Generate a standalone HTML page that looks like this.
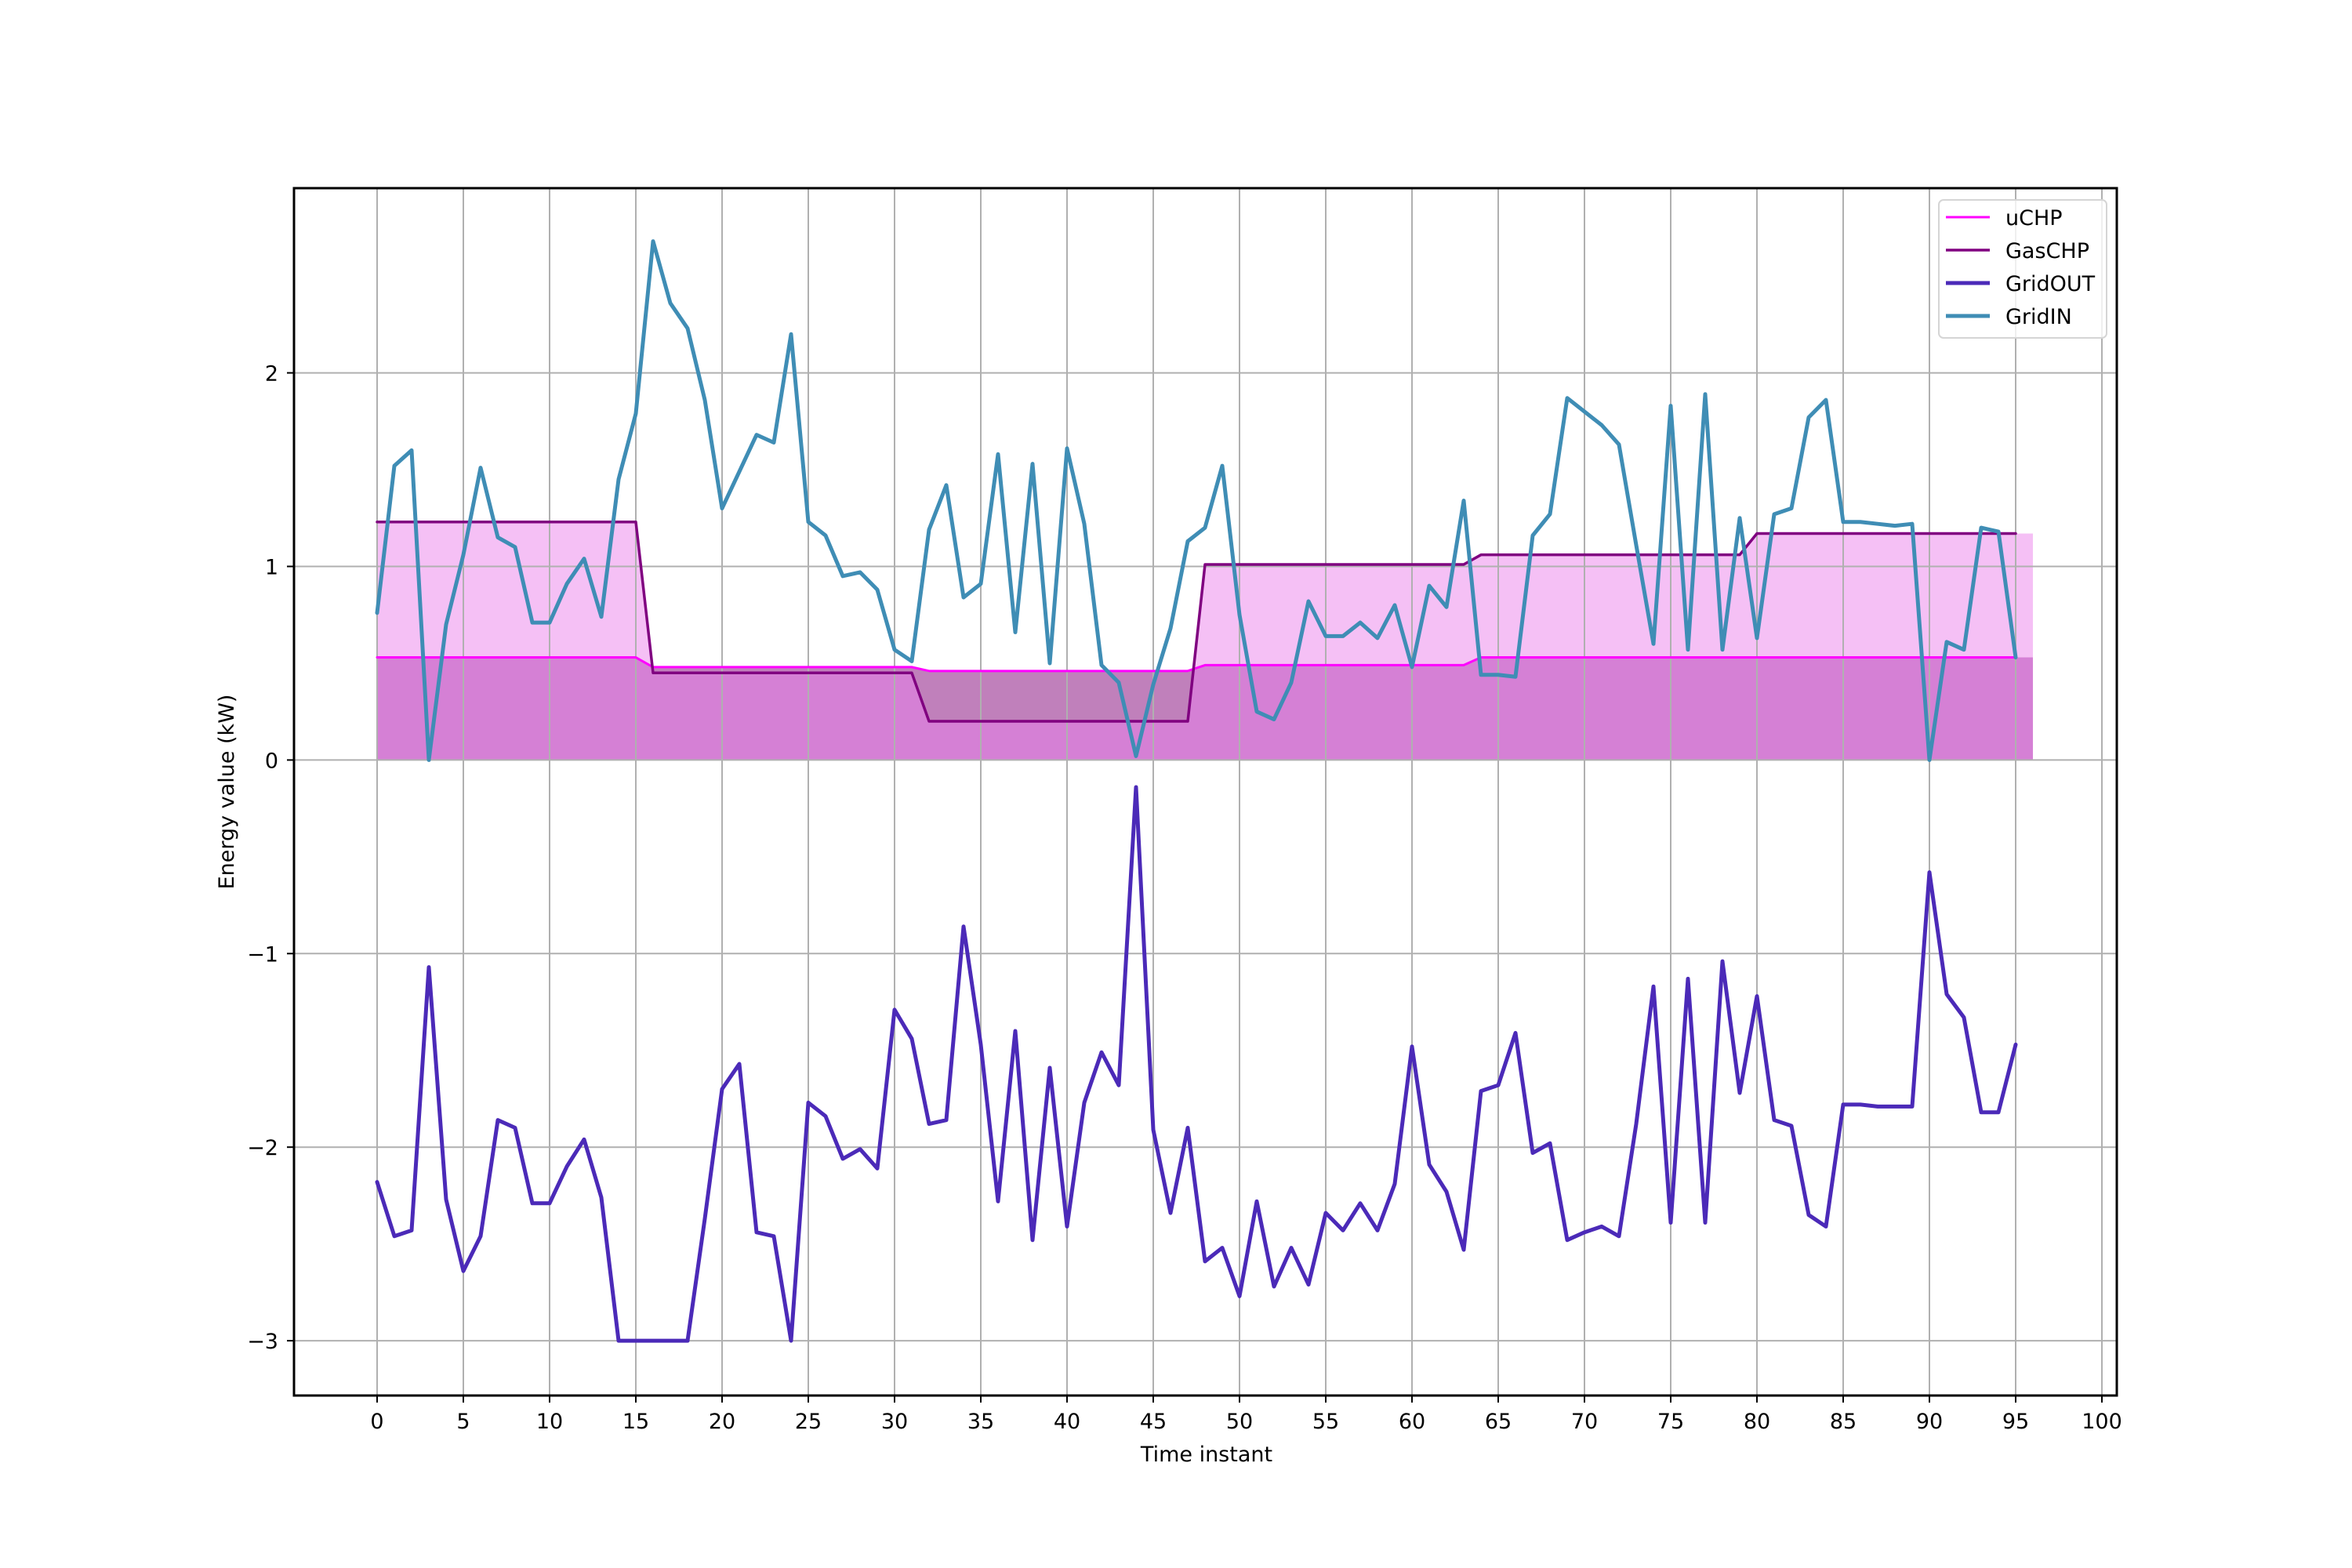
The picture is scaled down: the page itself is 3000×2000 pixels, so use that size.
<!DOCTYPE html>
<html><head><meta charset="utf-8"><style>
html,body{margin:0;padding:0;background:#fff;}
svg{display:block;font-family:"DejaVu Sans","Liberation Sans",sans-serif;}
</style></head><body>
<svg id="chart" width="3000" height="2000" viewBox="0 0 3000 2000">
<defs><clipPath id="ax-clip"><rect x="375" y="240" width="2325" height="1540"/></clipPath></defs>
<rect x="0" y="0" width="3000" height="2000" fill="#fff"/>
<g id="fills" clip-path="url(#ax-clip)"></g>
<g id="grid"></g>
<g id="lines" clip-path="url(#ax-clip)"></g>
<rect x="375" y="240" width="2325" height="1540" fill="none" stroke="#000" stroke-width="3"/>
<g id="ticks"></g>
<text x="1539" y="1864" font-size="27" text-anchor="middle">Time instant</text>
<text x="298" y="1010" font-size="27" text-anchor="middle" transform="rotate(-90 298 1010)">Energy value (kW)</text>
<g>
<rect x="2473" y="255" width="214" height="176" rx="6" fill="#fff" fill-opacity="0.8" stroke="#d5d5d5" stroke-width="2"/>
<g><line x1="2482" y1="277" x2="2538" y2="277" stroke="#ff00ff" stroke-width="3"/><text x="2558" y="287" font-size="27">uCHP</text></g>
<g><line x1="2482" y1="319" x2="2538" y2="319" stroke="#800080" stroke-width="3.5"/><text x="2558" y="329" font-size="27">GasCHP</text></g>
<g><line x1="2482" y1="361" x2="2538" y2="361" stroke="#4b2ab8" stroke-width="5"/><text x="2558" y="371" font-size="27">GridOUT</text></g>
<g><line x1="2482" y1="403" x2="2538" y2="403" stroke="#3f8db5" stroke-width="5"/><text x="2558" y="413" font-size="27">GridIN</text></g>
</g>
</svg>
<script>
const gridIn = [0.76,1.52,1.60,0,0.70,1.06,1.51,1.15,1.10,0.71,0.71,0.91,1.04,0.74,1.45,1.79,2.68,2.36,2.23,1.86,1.30,1.49,1.68,1.64,2.20,1.23,1.16,0.95,0.97,0.88,0.57,0.51,1.19,1.42,0.84,0.91,1.58,0.66,1.53,0.50,1.61,1.22,0.49,0.40,0.02,0.39,0.68,1.13,1.20,1.52,0.75,0.25,0.21,0.40,0.82,0.64,0.64,0.71,0.63,0.80,0.48,0.90,0.79,1.34,0.44,0.44,0.43,1.16,1.27,1.87,1.80,1.73,1.63,1.11,0.60,1.83,0.57,1.89,0.57,1.25,0.63,1.27,1.30,1.77,1.86,1.23,1.23,1.22,1.21,1.22,0,0.61,0.57,1.20,1.18,0.53];
const gridOut = [-2.18,-2.46,-2.43,-1.07,-2.27,-2.64,-2.46,-1.86,-1.90,-2.29,-2.29,-2.10,-1.96,-2.26,-3,-3,-3,-3,-3,-2.37,-1.70,-1.57,-2.44,-2.46,-3,-1.77,-1.84,-2.06,-2.01,-2.11,-1.29,-1.44,-1.88,-1.86,-0.86,-1.47,-2.28,-1.40,-2.48,-1.59,-2.41,-1.77,-1.51,-1.68,-0.14,-1.91,-2.34,-1.90,-2.59,-2.52,-2.77,-2.28,-2.72,-2.52,-2.71,-2.34,-2.43,-2.29,-2.43,-2.19,-1.48,-2.09,-2.23,-2.53,-1.71,-1.68,-1.41,-2.03,-1.98,-2.48,-2.44,-2.41,-2.46,-1.88,-1.17,-2.39,-1.13,-2.39,-1.04,-1.72,-1.22,-1.86,-1.89,-2.35,-2.41,-1.78,-1.78,-1.79,-1.79,-1.79,-0.58,-1.21,-1.33,-1.82,-1.82,-1.47];
const uchpLevels = [0.53,0.48,0.46,0.49,0.53,0.53];
const gasLevels = [1.23,0.45,0.20,1.01,1.06,1.17];
const xTicks = [0,5,10,15,20,25,30,35,40,45,50,55,60,65,70,75,80,85,90,95,100];
const yTicks = [-3,-2,-1,0,1,2];
const yTickLabels = ["\u22123","\u22122","\u22121","0","1","2"];

const NS="http://www.w3.org/2000/svg";
const X0=375,X1=2700,Y0=240,Y1=1780;
function px(x){return 481+x*22.0;}
function py(v){return 969.4-v*246.9;}
function mk(tag,attrs,parent){const e=document.createElementNS(NS,tag);for(const k in attrs)e.setAttribute(k,attrs[k]);parent.appendChild(e);return e;}
const uchp=[],gas=[];
for(let i=0;i<96;i++){uchp.push(uchpLevels[Math.floor(i/16)]);gas.push(gasLevels[Math.floor(i/16)]);}
const fills=document.getElementById('fills');
const xs=[];for(let i=0;i<96;i++)xs.push(i);xs.push(96);
const uE=uchp.concat([uchp[95]]),gE=gas.concat([gas[95]]);
let d='M'+xs.map((x,i)=>px(x)+','+py(gE[i])).join('L')+'L'+xs.slice().reverse().map((x,j)=>px(x)+','+py(uE[xs.length-1-j])).join('L')+'Z';
let p=mk('path',{d:d,fill:'#f5c0f5'},fills);


let dA='M'+px(0)+','+py(0)+'L'+xs.map((x,i)=>px(x)+','+py(uE[i])).join('L')+'L'+px(96)+','+py(0)+'Z';
p=mk('path',{d:dA,fill:'#d580d5'},fills);


const defs=document.querySelector('defs');
const cp=mk('clipPath',{id:'ucl'},defs);mk('path',{d:dA},cp);
p=mk('path',{d:d,fill:'#c080bb','clip-path':'url(#ucl)'},fills);


const grid=document.getElementById('grid');
xTicks.forEach(t=>{const l=mk('line',{x1:px(t),x2:px(t),y1:Y0,y2:Y1,stroke:'#b0b0b0','stroke-width':2},grid);

});
yTicks.forEach(t=>{const l=mk('line',{x1:X0,x2:X1,y1:py(t),y2:py(t),stroke:'#b0b0b0','stroke-width':2},grid);

});
const lines=document.getElementById('lines');
function line(arr,color,w,name){const pts=arr.map((v,i)=>px(i)+','+py(v)).join(' ');
const e=mk('polyline',{points:pts,fill:'none',stroke:color,'stroke-width':w,'stroke-linejoin':'round','stroke-linecap':'round'},lines);

}
line(uchp,'#ff00ff',3,'uchp-line');
line(gas,'#800080',3.5,'gaschp-line');
line(gridOut,'#4b2ab8',5,'gridout-line');
line(gridIn,'#3f8db5',5,'gridin-line');
const ticks=document.getElementById('ticks');
xTicks.forEach(t=>{mk('line',{x1:px(t),x2:px(t),y1:Y1,y2:Y1+9,stroke:'#000','stroke-width':2},ticks);
const tx=mk('text',{x:px(t),y:1822,'font-size':27,'text-anchor':'middle'},ticks);tx.textContent=t;

});
yTicks.forEach((t,i)=>{mk('line',{x1:X0-9,x2:X0,y1:py(t),y2:py(t),stroke:'#000','stroke-width':2},ticks);
const tx=mk('text',{x:355,y:py(t)+10,'font-size':27,'text-anchor':'end'},ticks);tx.textContent=yTickLabels[i];

});
</script>
</body></html>
